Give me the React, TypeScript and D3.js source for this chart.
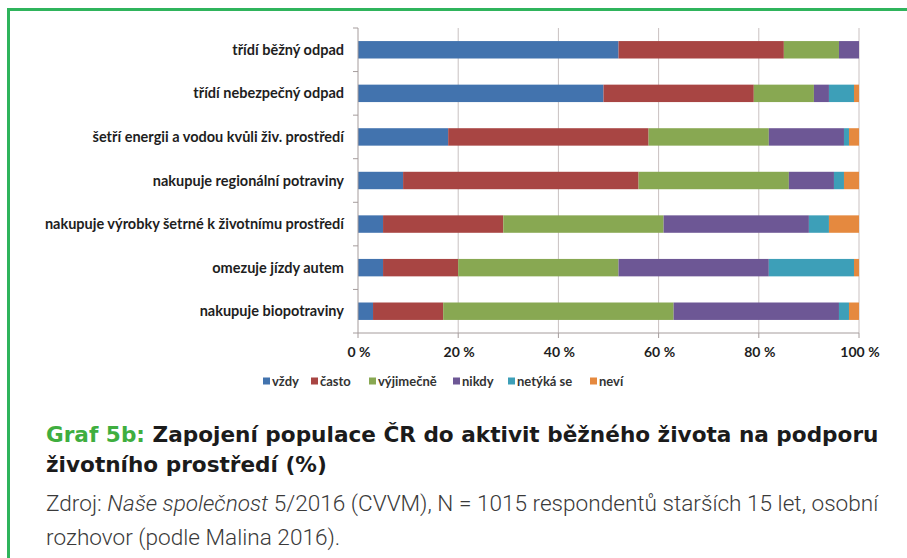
import React from "react";
import * as d3 from "d3";

const categories = [
  "třídí běžný odpad",
  "třídí nebezpečný odpad",
  "šetří energii a vodou kvůli živ. prostředí",
  "nakupuje regionální potraviny",
  "nakupuje výrobky šetrné k životnímu prostředí",
  "omezuje jízdy autem",
  "nakupuje biopotraviny",
];
const seriesNames = ["vždy", "často", "výjimečně", "nikdy", "netýká se", "neví"];
const vzdy = [52, 49, 18, 9, 5, 5, 3];
const casto = [33, 30, 40, 47, 24, 15, 14];
const vyjimecne = [11, 12, 24, 30, 32, 32, 46];
const nikdy = [4, 3, 15, 9, 29, 30, 33];
const netykaSe = [0, 5, 1, 2, 4, 17, 2];
const nevi = [0, 1, 2, 3, 6, 1, 2];
const xTicks = [0, 20, 40, 60, 80, 100];
const colors = ["#4273ae", "#a84543", "#88a852", "#6d5795", "#3d9fb8", "#e5893f"];

const W = 907;
const H = 558;
const X0 = 358;
const X1 = 859;
const Y0 = 28;
const Y1 = 333;

export default function App() {
  const x = d3.scaleLinear().domain([0, 100]).range([X0, X1]);
  const y = d3
    .scaleBand<string>()
    .domain(categories)
    .range([Y0, Y1])
    .paddingInner(0.6)
    .paddingOuter(0.3);
  const step = (Y1 - Y0) / categories.length;

  const rows = categories.map((c, i) => ({
    cat: c,
    vals: [vzdy[i], casto[i], vyjimecne[i], nikdy[i], netykaSe[i], nevi[i]],
  }));
  const keys = seriesNames.map((_, k) => String(k));
  const table = rows.map((r) => {
    const o: any = { cat: r.cat };
    r.vals.forEach((v, k) => (o[String(k)] = v));
    return o;
  });
  const stacked = d3.stack<any>().keys(keys)(table);

  const legendX = [263, 311, 369, 453, 508, 590];
  const chartFont = "Lato, 'Open Sans', sans-serif";

  return (
    <svg
      width={W}
      height={H}
      style={{ position: "absolute", left: 0, top: 0, background: "#fff" }}
    >
      <rect x={0} y={0} width={W} height={H} fill="#fff" />
      {/* frame */}
      <line x1={7} x2={W} y1={9.5} y2={9.5} stroke="#2fb45c" strokeWidth={3} />
      <line x1={8.5} x2={8.5} y1={8} y2={H} stroke="#2fb45c" strokeWidth={3} />

      {/* gridlines */}
      {xTicks.slice(1).map((t) => (
        <line key={t} x1={x(t)} x2={x(t)} y1={Y0} y2={Y1} stroke="#c9c1c1" strokeWidth={1} />
      ))}

      {/* bars */}
      {stacked.map((s, k) =>
        s.map((d, i) => {
          const w = x(d[1]) - x(d[0]);
          if (w <= 0) return null;
          return (
            <rect
              key={k + "-" + i}
              x={x(d[0])}
              y={y(categories[i])}
              width={w}
              height={y.bandwidth()}
              fill={colors[k]}
            />
          );
        })
      )}

      {/* axes */}
      <line x1={X0} x2={X0} y1={Y0} y2={Y1} stroke="#a59c9c" strokeWidth={1} />
      <line x1={X0} x2={X1} y1={Y1} y2={Y1} stroke="#a59c9c" strokeWidth={1} />
      {d3.range(categories.length + 1).map((i) => (
        <line
          key={"yt" + i}
          x1={X0 - 5}
          x2={X0}
          y1={Y0 + i * step}
          y2={Y0 + i * step}
          stroke="#a59c9c"
        />
      ))}
      {xTicks.map((t) => (
        <line key={"xt" + t} x1={x(t)} x2={x(t)} y1={Y1} y2={Y1 + 5} stroke="#a59c9c" />
      ))}

      {/* category labels */}
      {categories.map((c) => (
        <text
          key={c}
          x={X0 - 14}
          y={(y(c) as number) + y.bandwidth() / 2}
          dy="0.35em"
          textAnchor="end"
          fontFamily={chartFont}
          fontWeight={700}
          fontSize={14.5}
          fill="#1e1e1e"
        >
          {c}
        </text>
      ))}

      {/* x tick labels */}
      {xTicks.map((t) => (
        <text
          key={"xl" + t}
          x={x(t) + 1}
          y={352}
          dy="0.35em"
          textAnchor="middle"
          fontFamily={chartFont}
          fontWeight={700}
          fontSize={14}
          fill="#1e1e1e"
        >
          {t + "\u202f%"}
        </text>
      ))}

      {/* legend */}
      {seriesNames.map((n, k) => (
        <g key={n} transform={`translate(${legendX[k]},381)`}>
          <rect x={0} y={-3.5} width={7} height={7} fill={colors[k]} />
          <text
            x={9}
            y={0}
            dy="0.35em"
            fontFamily={chartFont}
            fontWeight={700}
            fontSize={13}
            fill="#333"
          >
            {n}
          </text>
        </g>
      ))}

      {/* title */}
      <text
        x={46}
        y={442}
        fontFamily="'DejaVu Sans', sans-serif"
        fontWeight={700}
        fontSize={21.6}
        fill="#1b1b1b"
      >
        <tspan fill="#3fae3f">Graf 5b: </tspan>
        Zapojení populace ČR do aktivit běžného života na podporu
      </text>
      <text
        x={46}
        y={472}
        fontFamily="'DejaVu Sans', sans-serif"
        fontWeight={700}
        fontSize={21.6}
        fill="#1b1b1b"
      >
        životního prostředí (%)
      </text>

      {/* source */}
      <text x={46} y={511} fontFamily="Roboto, sans-serif" fontWeight={300} fontSize={22.6} fill="#3a3a3a">
        Zdroj: <tspan fontStyle="italic">Naše společnost</tspan> 5/2016 (CVVM), N = 1015 respondentů starších 15 let, osobní
      </text>
      <text x={46} y={545} fontFamily="Roboto, sans-serif" fontWeight={300} fontSize={22.6} fill="#3a3a3a">
        rozhovor (podle Malina 2016).
      </text>
    </svg>
  );
}
